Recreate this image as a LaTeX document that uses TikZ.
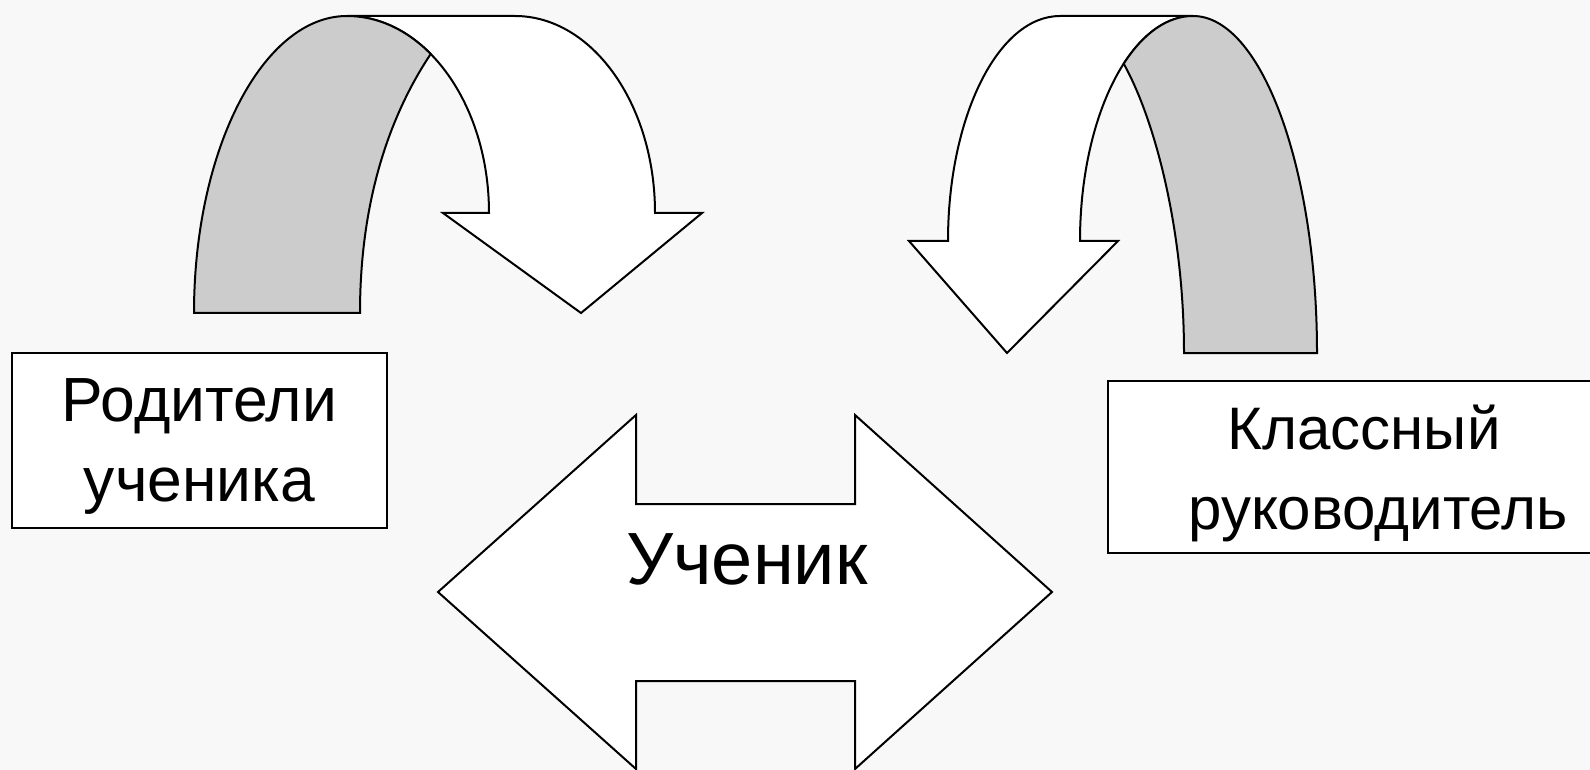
\documentclass[tikz,border=0pt]{standalone}
\usepackage{fontspec}
\setmainfont{Liberation Sans}
\usepackage{tikz}

\definecolor{slidebg}{RGB}{248,248,248}
\definecolor{bandgray}{RGB}{204,204,204}

\begin{document}
\begin{tikzpicture}[x=0.5pt, y=-0.5pt,
	outline/.style={draw=black, line width=1pt, line join=miter},
	sheet/.style={outline, fill=white},
	band/.style={outline, fill=bandgray},
	labelbox/.style={sheet, rectangle, align=center, inner sep=0pt, text depth=0pt}]
	\useasboundingbox (0,0) rectangle (1590,770);
	\fill[slidebg] (0,0) rectangle (1590,770);
	\clip (0,0) rectangle (1590,770);

	% left turn arrow
	\draw[sheet] (347,16) -- (515,16) .. controls (592,16) and (655,104) .. (655,213)
		-- (702,213) -- (581,313) -- (443,213) -- (489,213)
		.. controls (489,104) and (425,16) .. (347,16) -- cycle;
	\draw[band] (194,313) .. controls (194,149) and (263,16) .. (347,16)
		.. controls (378.2,16) and (407.2,30.1) .. (430.7,54)
		.. controls (390,115) and (360,200) .. (360,313) -- cycle;

	% right turn arrow
	\draw[sheet] (1060,16) -- (1193,16) .. controls (1131,16) and (1080,117) .. (1080,241)
		-- (1118,241) -- (1007,353) -- (909,241) -- (948,241)
		.. controls (948,117) and (998,16) .. (1060,16) -- cycle;
	\draw[band] (1193,16) .. controls (1261,16) and (1317,167) .. (1317,353)
		-- (1184,353) .. controls (1184,230) and (1155,120) .. (1123.7,63.7)
		.. controls (1142.9,33.8) and (1167,16) .. (1193,16) -- cycle;

	% double arrow
	\draw[sheet] (438,592) -- (636,415) -- (636,504) -- (855,504) -- (855,415) -- (1052,592)
		-- (855,769) -- (855,681) -- (636,681) -- (636,769) -- cycle;
	\node (pupil) [font=\fontsize{37}{44}\selectfont] at (747,559) {Ученик};

	\node (parents) [labelbox, font=\fontsize{31.2}{40}\selectfont, minimum width=187.5pt, minimum height=87.5pt] at (199.5,440.5) {Родители\\ученика};
	\node (tutor) [labelbox, font=\fontsize{30}{40}\selectfont, minimum width=270pt, minimum height=86pt] at (1378,467) {Классный\kern 14pt\\руководитель};

\end{tikzpicture}
\end{document}
